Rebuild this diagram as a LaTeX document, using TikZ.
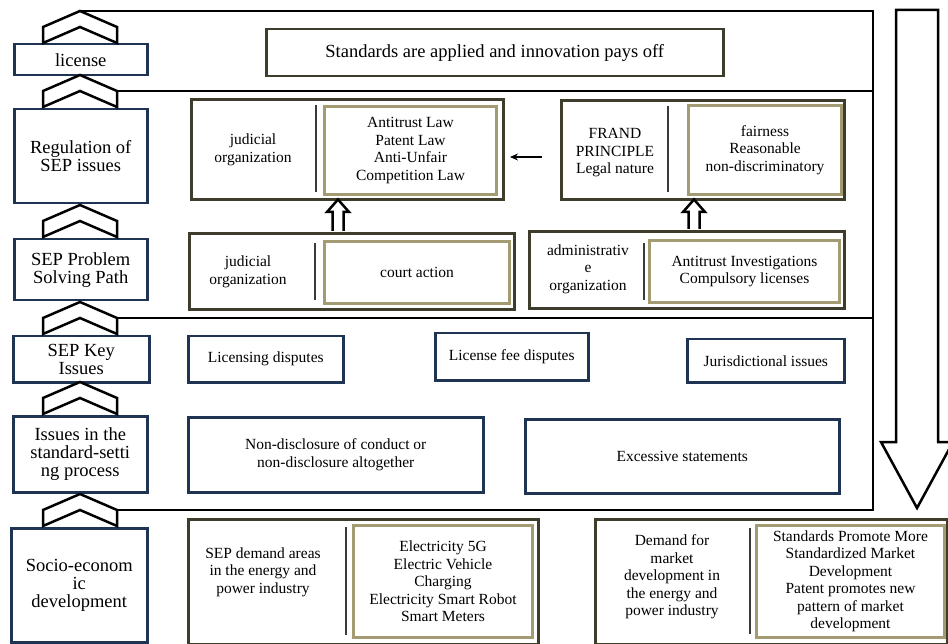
\documentclass[tikz,border=0pt]{standalone}
\usepackage{fontspec}
\setmainfont{Liberation Serif}
\usetikzlibrary{arrows.meta}
\definecolor{navy}{HTML}{1F3452}
\definecolor{olivedk}{HTML}{3E3D2C}
\definecolor{khaki}{HTML}{A39B72}
\definecolor{divgray}{HTML}{3A3A3A}
\tikzset{
 big/.style={font=\fontsize{18.5}{18}\selectfont, align=center},
 small/.style={font=\fontsize{15.5}{17.5}\selectfont, align=center},
 navybox/.style={draw=navy, line width=2.5pt, anchor=north west, inner sep=0pt},
 outerbox/.style={draw=olivedk, line width=3pt, anchor=north west, inner sep=0pt},
 innerbox/.style={draw=khaki, line width=3pt, anchor=north west, inner sep=0pt},
 topbox/.style={draw=olivedk, line width=2.5pt, anchor=north west, inner sep=0pt},
 chev/.style={draw=black, line width=2.5pt, fill=white, line join=miter},
 framel/.style={draw=black, line width=1.2pt},
 divider/.style={draw=divgray, line width=1.5pt},
 openarrow/.style={draw=black, line width=2.5pt, fill=white, line join=miter},
}
\newcommand{\mychev}[2]{%
 \draw[chev] (43,#2) -- (43,#2-16) -- (80,#2-32) -- (117,#2-16) -- (117,#2) -- (80,#2-16) -- cycle;
 \coordinate (#1apex) at (80,#2-32);
 \coordinate (#1sh) at (117,#2-16);
}
\begin{document}
\begin{tikzpicture}[x=1pt,y=-1pt]
\useasboundingbox (0,0) rectangle (948,644);
\clip (0,0) rectangle (948,644);
\fill[white] (0,0) rectangle (948,644);

% left column
\node[navybox, big, minimum width=133pt, minimum height=31pt] (L1) at (13,43) {license};
\node[navybox, big, minimum width=133pt, minimum height=94pt] (L2) at (13,108) {Regulation of\\SEP issues};
\node[navybox, big, minimum width=133pt, minimum height=61pt] (L3) at (13,238) {SEP Problem\\Solving Path};
\node[navybox, big, minimum width=136pt, minimum height=46pt] (L4) at (12,335) {SEP Key\\Issues};
\node[navybox, big, minimum width=134pt, minimum height=76pt] (L5) at (12,415) {Issues in the\\standard-setti\\ng process};
\node[navybox, big, minimum width=136pt, minimum height=114pt] (L6) at (10,527) {Socio-econom\\ic\\development};

% chevrons
\mychev{c1}{43}
\mychev{c2}{107}
\mychev{c3}{237}
\mychev{c4}{334}
\mychev{c5}{414}
\mychev{c6}{526}

% frame
\draw[framel] (c1apex) -- (873,11) -- (873,510) -- (c6sh);
\draw[framel] (c2sh) -- (873,91);
\draw[framel] (c4sh) -- (873,318);

% top box
\node[topbox, big, minimum width=457pt, minimum height=47pt] (T) at (265,28) {Standards are applied and innovation pays off};

% row 2 left
\node[outerbox, minimum width=312pt, minimum height=100pt] (A) at (190,98) {};
\node[innerbox, small, minimum width=172pt, minimum height=88pt] (Ai) at (323,105) {Antitrust Law\\Patent Law\\Anti-Unfair\\Competition Law};
\draw[divider] (316,105) -- (316,192);
\node[small] (Al) at (253,150) {judicial\\organization};

% row 2 right
\node[outerbox, minimum width=283pt, minimum height=99pt] (B) at (560,99) {};
\node[innerbox, small, minimum width=153pt, minimum height=89pt] (Bi) at (687,104) {fairness\\Reasonable\\non-discriminatory};
\draw[divider] (668,106) -- (668,192);
\node[small] (Bl) at (615,153) {FRAND\\PRINCIPLE\\Legal nature};

\coordinate (arrt) at (542,157);
\coordinate (arrh) at (510,157);
\draw[line width=1.2pt, -{Stealth[length=8pt,width=7pt]}] (arrt) -- (arrh);

% row 3 left
\node[outerbox, minimum width=325pt, minimum height=76pt] (C) at (188,232) {};
\node[innerbox, small, minimum width=185pt, minimum height=62pt] (Ci) at (323,240) {court action};
\draw[divider] (315,243) -- (315,300);
\node[small] (Cl) at (248,272) {judicial\\organization};

% row 3 right
\node[outerbox, minimum width=315pt, minimum height=77pt] (D) at (528,230) {};
\node[innerbox, small, minimum width=190pt, minimum height=62pt] (Di) at (648,239) {Antitrust Investigations\\Compulsory licenses};
\draw[divider] (644,243) -- (644,300);
\node[small] (Dl) at (588,269) {administrativ\\e\\organization};

% open up arrows
\draw[openarrow] (332.5,231) -- (332.5,212) -- (327,212) -- (338,199.5) -- (349,212) -- (343.5,212) -- (343.5,231);
\draw[openarrow] (688.5,229) -- (688.5,212) -- (683,212) -- (694,199.5) -- (705,212) -- (699.5,212) -- (699.5,229);

% row 4
\node[navybox, small, minimum width=155pt, minimum height=46pt] (E1) at (187,335) {Licensing disputes};
\node[navybox, small, minimum width=153pt, minimum height=47pt] (E2) at (434,332) {License fee disputes};
\node[navybox, small, minimum width=157pt, minimum height=43pt] (E3) at (686,338) {Jurisdictional issues};

% row 5
\node[navybox, small, minimum width=295pt, minimum height=75pt] (F1) at (187,416) {Non-disclosure of conduct or\\non-disclosure altogether};
\node[navybox, small, minimum width=314pt, minimum height=74pt] (F2) at (524,418) {Excessive statements};

% row 6 left
\node[outerbox, minimum width=350pt, minimum height=125pt] (G) at (187,518) {};
\node[innerbox, small, minimum width=179pt, minimum height=112pt] (Gi) at (352,524) {Electricity 5G\\Electric Vehicle\\Charging\\Electricity Smart Robot\\Smart Meters};
\draw[divider] (346,527) -- (346,635);
\node[small] (Gl) at (263,572) {SEP demand areas\\in the energy and\\power industry};

% row 6 right
\node[outerbox, minimum width=352pt, minimum height=125pt] (H) at (594,518) {};
\node[innerbox, small, minimum width=188pt, minimum height=112pt] (Hi) at (755,524) {Standards Promote More\\Standardized Market\\Development\\Patent promotes new\\pattern of market\\development};
\draw[divider] (750,528) -- (750,634);
\node[small] (Hl) at (672,577) {Demand for\\market\\development in\\the energy and\\power industry};

% big down arrow
\draw[openarrow] (896,10) -- (938,10) -- (938,442) -- (953,442) -- (917,508) -- (881,442) -- (896,442) -- cycle;
\end{tikzpicture}
\end{document}
